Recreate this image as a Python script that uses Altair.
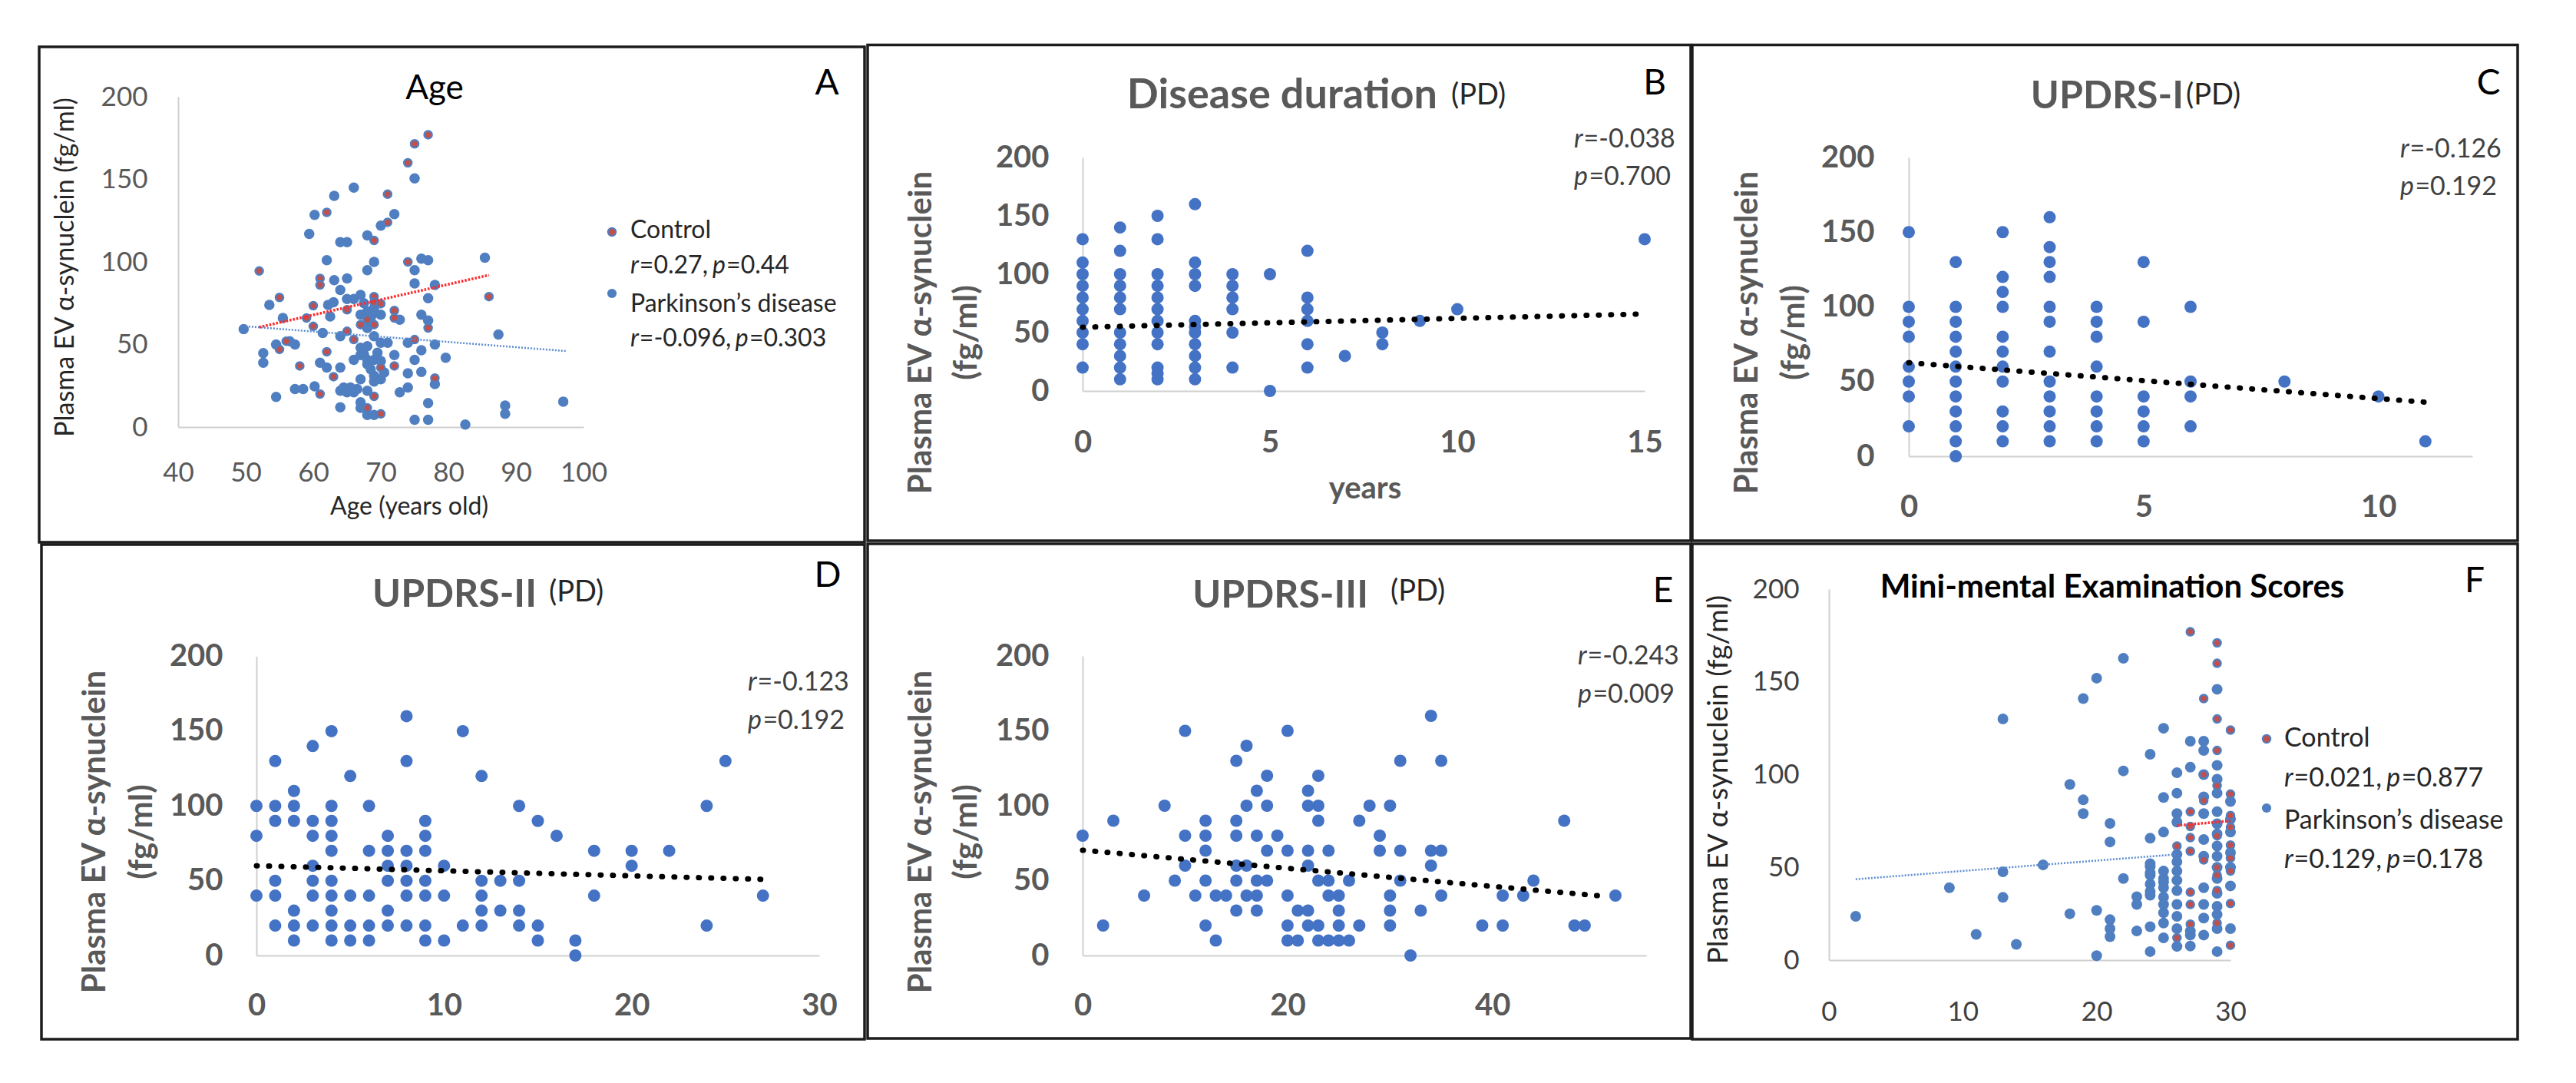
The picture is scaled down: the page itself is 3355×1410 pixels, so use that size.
import altair as alt
import pandas as pd

# ---------------- values ----------------
# A: Age vs plasma EV alpha-synuclein
A_ctrl_age = [52, 55, 55, 56, 58, 59, 60, 60, 61, 61, 61, 62, 62, 63, 65, 65, 66, 67, 68, 68,
              69, 69, 69, 69, 69, 70, 70, 70, 71, 71, 72, 72, 72, 74, 74, 75, 75, 77, 77, 78, 86]
A_ctrl_syn = [94.5, 78.5, 47, 52, 37, 66, 73.5, 61, 90, 86, 20, 130, 45.6, 30.5, 71, 58, 53, 62, 65, 11.6,
              113, 79, 75.6, 62, 18.6, 74.7, 36, 8, 141, 124, 70.6, 66, 37, 100, 160, 171.5, 53, 177, 60, 29.7, 79]
A_pd_age = [49.7, 52.6, 52.6, 53.5, 54.5, 54.5, 55.5, 56.5, 57.3, 57.3, 58.5, 59.4, 60.2, 60.2, 61, 61.4,
            62, 62, 62.2, 62.5, 63, 63.1, 63.1, 64, 64, 64, 64, 65, 64, 65, 64, 65, 66, 66, 65, 66, 66,
            67, 67, 67, 67, 68, 68, 68, 68, 68, 68, 69, 69, 69, 69, 69, 70, 70, 70, 71, 72, 72, 72.8, 72.8,
            74, 74, 74, 75, 75, 75, 75, 75, 76, 76, 76, 76, 77, 77, 77, 77, 77, 78, 78, 78, 79.6, 82.5,
            85.4, 87.4, 88.4, 88.4, 97,
            67, 67.5, 68, 68.5, 69, 70, 67, 68, 67, 67.5, 68, 68.5, 69, 69.5, 70, 70.5, 69, 64.5, 65.5, 66.5]
A_pd_syn = [59.3, 44.8, 39, 74, 18.3, 50, 66, 52, 50, 23, 23, 117, 128.5, 24.7, 39, 57,
            36, 101, 74, 67, 75.6, 140, 89, 36, 12, 22, 112, 112, 83, 90, 55, 77.6, 77.6, 145, 21, 21, 40.7,
            43.6, 29, 15, 11.6, 116, 95, 49, 40.7, 22, 7.3, 100, 69, 40.7, 27.6, 7.3, 122, 51, 29, 51, 129, 43.6, 65, 21,
            32.6, 24, 51, 150.6, 95, 87, 4.4, 40.7, 102, 68, 33.4, 46.5, 101, 78, 64.5, 14.5, 4.4, 86, 50, 26, 42, 1.5,
            102.6, 56, 13, 8, 15.4,
            80, 75, 70, 66, 72, 68, 68, 60, 48, 44, 38, 35, 31, 45, 40, 33, 55, 24, 24, 23]
A_ctrl_fit_x = [52, 86]
A_ctrl_fit_y = [60.5, 92]
A_pd_fit_x = [50, 97.5]
A_pd_fit_y = [61, 46]

# B: disease duration (years)
B_x = [0, 0, 0, 0, 0, 0, 0, 0, 0, 0,
       1, 1, 1, 1, 1, 1, 1, 1, 1, 1, 1,
       2, 2, 2, 2, 2, 2, 2, 2, 2, 2, 2, 2,
       3, 3, 3, 3, 3, 3, 3, 3, 3, 3, 3,
       4, 4, 4, 4, 4, 4, 5, 5, 6, 6, 6, 6, 6, 6, 7, 8, 8, 9, 10, 15]
B_y = [130, 110, 100, 90, 80, 70, 60, 50, 40, 20,
       140, 120, 100, 90, 80, 70, 50, 40, 30, 20, 10,
       150, 130, 100, 90, 80, 70, 60, 50, 40, 20, 15, 10,
       160, 110, 100, 90, 60, 55, 50, 40, 30, 20, 10,
       100, 90, 80, 70, 50, 20, 100, 0, 120, 80, 70, 60, 40, 20, 30, 50, 40, 60, 70, 130]
B_fit_x = [0, 14.8]
B_fit_y = [54.6, 65.8]

# C: UPDRS-I
C_x = [0, 0, 0, 0, 0, 0, 0, 0,
       1, 1, 1, 1, 1, 1, 1, 1, 1, 1, 1, 1,
       2, 2, 2, 2, 2, 2, 2, 2, 2, 2, 2,
       3, 3, 3, 3, 3, 3, 3, 3, 3, 3, 3, 3,
       4, 4, 4, 4, 4, 4, 4, 4,
       5, 5, 5, 5, 5, 5, 6, 6, 6, 6, 8, 10, 11]
C_y = [150, 100, 90, 80, 60, 50, 40, 20,
       130, 100, 90, 80, 70, 60, 50, 40, 30, 20, 10, 0,
       150, 120, 110, 100, 80, 70, 60, 50, 30, 20, 10,
       160, 140, 130, 120, 100, 90, 70, 50, 40, 30, 20, 10,
       100, 90, 80, 60, 40, 30, 20, 10,
       130, 90, 40, 30, 20, 10, 100, 50, 40, 20, 50, 40, 10]
C_fit_x = [0, 11]
C_fit_y = [62.6, 36.2]

# D: UPDRS-II
D_x = [0, 0, 0, 1, 1, 1, 1, 1, 1, 2, 2, 2, 2, 2, 2, 3, 3, 3, 3, 3, 3, 3,
       4, 4, 4, 4, 4, 4, 4, 4, 4, 4, 5, 5, 5, 5, 6, 6, 6, 6, 6, 7, 7, 7, 7, 7, 7,
       8, 8, 8, 8, 8, 8, 8, 9, 9, 9, 9, 9, 9, 9, 10, 10, 10, 11, 11, 12, 12, 12, 12, 12,
       13, 13, 14, 14, 14, 14, 15, 15, 15, 16, 17, 17, 18, 18, 20, 20, 22, 24, 24, 25, 27]
D_y = [100, 80, 40, 130, 100, 90, 50, 40, 20, 110, 100, 90, 30, 20, 10, 140, 90, 80, 60, 50, 40, 20,
       150, 100, 90, 80, 70, 50, 40, 30, 20, 10, 120, 40, 20, 10, 100, 70, 40, 20, 10, 80, 70, 60, 50, 30, 20,
       160, 130, 70, 60, 50, 40, 20, 90, 80, 70, 50, 40, 20, 10, 60, 40, 10, 150, 20, 120, 50, 40, 30, 20,
       50, 30, 100, 50, 30, 20, 90, 20, 10, 80, 10, 0, 70, 40, 70, 60, 70, 100, 20, 130, 40]
D_fit_x = [0, 27]
D_fit_y = [60, 50.9]

# E: UPDRS-III
E_x = [0, 2, 3, 6, 8, 9, 10, 10, 10, 11, 12, 12, 12, 12, 12, 13, 13, 14,
       15, 15, 15, 15, 15, 15, 16, 16, 16, 16, 17, 17, 17, 17, 17, 18, 18, 18, 18, 19,
       20, 20, 20, 20, 20, 21, 21, 22, 22, 22, 22, 22, 22, 23, 23, 23, 23, 23, 23,
       24, 24, 24, 24, 25, 25, 25, 25, 26, 26, 27, 27, 28, 29, 29, 30, 30, 30, 30,
       31, 31, 31, 32, 33, 34, 34, 34, 35, 35, 35, 39, 41, 41, 43, 44, 47, 48, 49, 52]
E_y = [80, 20, 90, 40, 100, 50, 150, 80, 60, 40, 90, 80, 70, 50, 20, 40, 10, 40,
       130, 90, 80, 60, 50, 30, 140, 100, 60, 40, 110, 80, 50, 40, 30, 120, 100, 70, 50, 80,
       150, 70, 40, 20, 10, 30, 10, 110, 100, 70, 60, 30, 20, 120, 100, 90, 50, 20, 10,
       70, 50, 40, 10, 40, 30, 20, 10, 50, 10, 90, 20, 100, 80, 70, 100, 40, 30, 20,
       130, 70, 50, 0, 30, 160, 70, 60, 130, 70, 40, 20, 40, 20, 40, 50, 90, 20, 20, 40]
E_fit_x = [0, 51.2]
E_fit_y = [70.3, 39.4]

# F: Mini-mental examination scores
F_ctrl_x = [27, 29, 29, 28, 29, 30, 29, 28, 29, 30, 28, 27, 30, 27, 30, 27, 29, 30, 26, 27,
            28, 30, 29, 30, 29, 27, 29, 27, 30, 27, 29, 26, 30]
F_ctrl_y = [177, 171, 160, 141, 130, 124, 113, 100, 94, 89.5, 86, 80, 78, 72, 71.6, 66, 67, 62, 61.5, 58.7,
            54, 55, 50, 48, 45.8, 36.6, 37.5, 30, 30.5, 19.4, 20, 12, 8]
F_pd_x = [2, 9, 11, 13, 13, 13, 14, 16, 18, 18, 19, 19, 19, 20, 20, 20, 21, 21, 21, 21, 21,
          22, 22, 22, 23, 23, 23, 24, 24, 24, 24, 24, 24, 24, 24, 25, 25, 25, 25, 25, 25, 25, 25, 25,
          26, 26, 26, 26, 26, 26, 26, 26, 26, 26, 27, 27, 27, 27, 27, 28, 28, 28, 28, 28, 28, 28,
          29, 29, 29, 29, 29, 29, 29, 29, 29, 29, 29, 30, 30, 30,
          24, 24, 24, 25, 25, 25, 26, 26, 26, 28, 28, 28, 28, 29, 29, 29, 29, 29, 30, 30, 30, 30]
F_pd_y = [23.6, 39, 13.9, 130, 47.6, 33.8, 8.5, 51.3, 94.7, 25, 141, 86.4, 79, 152, 26.8, 2.4, 73.7, 63.7, 21.8, 17, 12.6,
          162.7, 102, 44, 34.2, 30, 15.7, 111, 65.7, 50.4, 45.8, 41, 37, 18, 4.6, 125, 87.7, 69, 44, 39, 34, 25.5, 20, 12,
          101, 90, 79, 74.4, 48, 43, 37.5, 23.6, 17, 7.4, 104, 118, 13.5, 7.6, 15.7, 118, 113, 79, 65, 39, 22.7, 13.5,
          146, 97.5, 90, 80, 73.5, 61.5, 56, 29, 24.6, 17, 4.6, 85.5, 69, 17,
          35, 47, 52, 30, 42, 48, 53, 30, 57, 88, 100, 56, 30, 105, 68, 44, 50, 36, 58, 76, 50, 40]
F_ctrl_fit_x = [26, 30]
F_ctrl_fit_y = [72.6, 75]
F_pd_fit_x = [2, 26]
F_pd_fit_y = [43.6, 57]

Y_TICKS = [0, 50, 100, 150, 200]
A_X_TICKS = [40, 50, 60, 70, 80, 90, 100]
B_X_TICKS = [0, 5, 10, 15]
C_X_TICKS = [0, 5, 10]
D_X_TICKS = [0, 10, 20, 30]
E_X_TICKS = [0, 20, 40]
F_X_TICKS = [0, 10, 20, 30]

Y_TITLE = "Plasma EV α-synuclein (fg/ml)"
Y_TITLE_1 = "Plasma EV α-synuclein"
Y_TITLE_2 = "(fg/ml)"
LEGEND = ["Control", "Parkinson’s disease"]
A_STATS = [["r", "=0.27, ", "p", "=0.44"], ["r", "=-0.096, ", "p", "=0.303"]]
F_STATS = [["r", "=0.021, ", "p", "=0.877"], ["r", "=0.129, ", "p", "=0.178"]]
B_STATS = [["r", "=-0.038"], ["p", "=0.700"]]
C_STATS = [["r", "=-0.126"], ["p", "=0.192"]]
D_STATS = [["r", "=-0.123"], ["p", "=0.192"]]
E_STATS = [["r", "=-0.243"], ["p", "=0.009"]]

# ---------------- layout helpers ----------------
W, H = 3300, 1370
M = 8  # page margin


def X(v):
    return v - M


def Y(v):
    return v - M


FONT = "Lato"
ONE = pd.DataFrame({"k": [0]})
BLUE = "#4472C4"
BLUE_A = "#4F7FC0"
RED = "#C0504D"
GRAY = "#595959"
DARK = "#262626"
layers = []


def add_text(x, y, s, fs, color="#000000", weight="normal", style="normal", align="left", angle=0):
    layers.append(
        alt.Chart(ONE).mark_text(text=s, font=FONT, fontSize=fs, fontWeight=weight, fontStyle=style,
                                 color=color, align=align, baseline="alphabetic", angle=angle)
        .encode(x=alt.value(X(x)), y=alt.value(Y(y)))
    )


LW = {c: 0.58 for c in "0123456789="}
LW.update({"-": 0.35, ".": 0.23, ",": 0.23, " ": 0.19})
IW = {"r": 0.37, "p": 0.57}


def add_stat(x, y, pieces, fs, color):
    cur = x
    for i, s in enumerate(pieces):
        if i % 2 == 0:
            add_text(cur, y, s, fs, color=color, style="italic")
            cur += IW[s] * fs
        else:
            add_text(cur, y, s, fs, color=color)
            cur += sum(LW.get(c, 0.55) for c in s) * fs


def add_box(x0, y0, x1, y1):
    layers.append(
        alt.Chart(ONE).mark_rect(fillOpacity=0, stroke="#1c1c1c", strokeWidth=3.5)
        .encode(x=alt.value(X(x0)), x2=alt.value(X(x1)), y=alt.value(Y(y0)), y2=alt.value(Y(y1)))
    )


def add_dot(x, y, size, fill, stroke=None, sw=0):
    kw = dict(size=size, fill=fill, opacity=1, fillOpacity=1)
    if stroke:
        kw.update(stroke=stroke, strokeWidth=sw, strokeOpacity=1)
    else:
        kw.update(strokeWidth=0)
    layers.append(alt.Chart(ONE).mark_circle(**kw).encode(x=alt.value(X(x)), y=alt.value(Y(y))))


def scales(xdom, xr, yr):
    xs = alt.Scale(domain=xdom, range=[X(xr[0]), X(xr[1])], nice=False, zero=False)
    ys = alt.Scale(domain=[0, 200], range=[Y(yr[0]), Y(yr[1])], nice=False, zero=False)
    return xs, ys


def axes(xvals, xr, yr, fs, color, weight, xpad, ypad):
    common = dict(grid=False, ticks=False, tickSize=0, domain=True, domainColor="#d0d0d0", domainWidth=2,
                  labelFont=FONT, labelFontSize=fs, labelColor=color, labelFontWeight=weight,
                  labelFlush=False, labelOverlap=False, title=None, format="d")
    xa = alt.Axis(orient="bottom", offset=Y(yr[0]) - H, values=xvals, labelPadding=xpad, **common)
    ya = alt.Axis(orient="left", offset=-X(xr[0]), values=Y_TICKS, labelPadding=ypad, **common)
    return xa, ya


def add_scatter(xv, yv, xs, ys, size, fill, stroke=None, sw=0, xa=None, ya=None):
    df = pd.DataFrame({"x": xv, "y": yv})
    kw = dict(size=size, fill=fill, opacity=1, fillOpacity=1)
    if stroke:
        kw.update(stroke=stroke, strokeWidth=sw, strokeOpacity=1)
    else:
        kw.update(strokeWidth=0)
    layers.append(
        alt.Chart(df).mark_circle(**kw)
        .encode(x=alt.X("x:Q", scale=xs, axis=xa), y=alt.Y("y:Q", scale=ys, axis=ya))
    )


def add_fit(xv, yv, xs, ys, color, width, dash, cap):
    df = pd.DataFrame({"x": xv, "y": yv})
    layers.append(
        alt.Chart(df).mark_line(color=color, strokeWidth=width, strokeDash=dash, strokeCap=cap)
        .encode(x=alt.X("x:Q", scale=xs, axis=None), y=alt.Y("y:Q", scale=ys, axis=None))
    )


# ---------------- panel A ----------------
add_box(51, 61, 1126, 706)
xr, yr = (232, 760), (556, 126)
xs, ys = scales([40, 100], xr, yr)
xa, ya = axes(A_X_TICKS, xr, yr, 35, GRAY, "normal", 42, 40)
add_scatter(A_pd_age, A_pd_syn, xs, ys, 182, BLUE_A, xa=xa, ya=ya)
add_scatter(A_ctrl_age, A_ctrl_syn, xs, ys, 100, RED, stroke=BLUE_A, sw=2.5)
add_fit(A_pd_fit_x, A_pd_fit_y, xs, ys, "#5B8BD0", 2.5, [2, 2], "butt")
add_fit(A_ctrl_fit_x, A_ctrl_fit_y, xs, ys, "#FF2A2A", 3.5, [2.5, 2], "butt")
add_text(566, 129, "Age", 44, align="center")
add_text(1077, 123, "A", 46, align="center")
add_text(96, 348, Y_TITLE, 34, color=DARK, align="center", angle=270)
add_text(533, 670, "Age (years old)", 32, color=DARK, align="center")
add_dot(797, 302, 110, RED, stroke=BLUE_A, sw=2)
add_dot(797, 382, 150, BLUE_A)
add_text(821, 310, LEGEND[0], 32, color=DARK)
add_stat(821, 356, A_STATS[0], 32, DARK)
add_text(821, 406, LEGEND[1], 32, color=DARK)
add_stat(821, 451, A_STATS[1], 32, DARK)

# ---------------- panels B-E ----------------
PANELS = [
    dict(box=(1130, 58.5, 2202, 704), xdom=[0, 15], xr=(1410, 2142), yr=(509, 205), ticks=B_X_TICKS,
         xpad=47, ypad=44, x=B_x, y=B_y, fx=B_fit_x, fy=B_fit_y, title="Disease duration", tfs=54, tr=1872, tb=141,
         pdl=1890, pdb=136, letter="B", lx=2155, lb=123, sx=2050, sb=(192, 241), stats=B_STATS,
         yt=(1213, 1272), yc=433),
    dict(box=(2204, 58.5, 3279, 704), xdom=[0, 12], xr=(2486, 3220), yr=(594, 205), ticks=C_X_TICKS,
         xpad=46, ypad=45, x=C_x, y=C_y, fx=C_fit_x, fy=C_fit_y, title="UPDRS-I", tfs=50, tr=2844, tb=141,
         pdl=2847, pdb=136, letter="C", lx=3241, lb=123, sx=3126, sb=(205, 254), stats=C_STATS,
         yt=(2289, 2350), yc=433),
    dict(box=(54, 709, 1126, 1353), xdom=[0, 30], xr=(334, 1067), yr=(1244, 854.5), ticks=D_X_TICKS,
         xpad=45, ypad=44, x=D_x, y=D_y, fx=D_fit_x, fy=D_fit_y, title="UPDRS-II", tfs=50, tr=699, tb=790,
         pdl=715, pdb=783, letter="D", lx=1078, lb=764, sx=974, sb=(899, 949), stats=D_STATS,
         yt=(137, 198), yc=1083),
    dict(box=(1130, 708, 2202, 1352), xdom=[0, 55], xr=(1410, 2144), yr=(1244, 854), ticks=E_X_TICKS,
         xpad=45, ypad=44, x=E_x, y=E_y, fx=E_fit_x, fy=E_fit_y, title="UPDRS-III", tfs=50, tr=1782, tb=791,
         pdl=1811, pdb=782, letter="E", lx=2166, lb=784, sx=2055, sb=(865, 915), stats=E_STATS,
         yt=(1213, 1272), yc=1083),
]

for p in PANELS:
    add_box(*p["box"])
    xs, ys = scales(p["xdom"], p["xr"], p["yr"])
    xa, ya = axes(p["ticks"], p["xr"], p["yr"], 40, GRAY, "bold", p["xpad"], p["ypad"])
    add_scatter(p["x"], p["y"], xs, ys, 256, BLUE, xa=xa, ya=ya)
    add_fit(p["fx"], p["fy"], xs, ys, "#000000", 7, [1, 15], "round")
    add_text(p["tr"], p["tb"], p["title"], p["tfs"], color=GRAY, weight="bold", align="right")
    add_text(p["pdl"], p["pdb"], "(PD)", 38, color=DARK)
    add_text(p["lx"], p["lb"], p["letter"], 46, align="center")
    add_stat(p["sx"], p["sb"][0], p["stats"][0], 34, "#404040")
    add_stat(p["sx"], p["sb"][1], p["stats"][1], 34, "#404040")
    add_text(p["yt"][0], p["yc"], Y_TITLE_1, 42, color=GRAY, weight="bold", align="center", angle=270)
    add_text(p["yt"][1], p["yc"], Y_TITLE_2, 42, color=GRAY, weight="bold", align="center", angle=270)

add_text(1778, 649, "years", 40, color=GRAY, weight="bold", align="center")

# ---------------- panel F ----------------
add_box(2204, 708, 3279, 1353)
xr, yr = (2382, 2905), (1250, 767)
xs, ys = scales([0, 30], xr, yr)
xa, ya = axes(F_X_TICKS, xr, yr, 35, "#404040", "normal", 50, 39)
add_scatter(F_pd_x, F_pd_y, xs, ys, 196, BLUE_A, xa=xa, ya=ya)
add_scatter(F_ctrl_x, F_ctrl_y, xs, ys, 100, RED, stroke=BLUE_A, sw=2.5)
add_fit(F_pd_fit_x, F_pd_fit_y, xs, ys, "#5B8BD0", 2.5, [2, 2], "butt")
add_fit(F_ctrl_fit_x, F_ctrl_fit_y, xs, ys, "#FF2A2A", 3.5, [2.5, 2], "butt")
add_text(2751, 778, "Mini-mental Examination Scores", 42, weight="bold", align="center")
add_text(3223, 771, "F", 46, align="center")
add_text(2250, 1015, Y_TITLE, 37, color=DARK, align="center", angle=270)
add_dot(2952, 962, 110, RED, stroke=BLUE_A, sw=2)
add_dot(2952, 1052, 150, BLUE_A)
add_text(2975, 972, LEGEND[0], 34, color=DARK)
add_stat(2975, 1024, F_STATS[0], 34, DARK)
add_text(2975, 1079, LEGEND[1], 34, color=DARK)
add_stat(2975, 1130, F_STATS[1], 34, DARK)

chart = (
    alt.layer(*layers)
    .resolve_scale(x="independent", y="independent")
    .properties(width=W, height=H, padding=0, background="white")
    .configure_view(stroke=None)
)

chart.save("out.html", embed_options={"renderer": "svg", "actions": False})
